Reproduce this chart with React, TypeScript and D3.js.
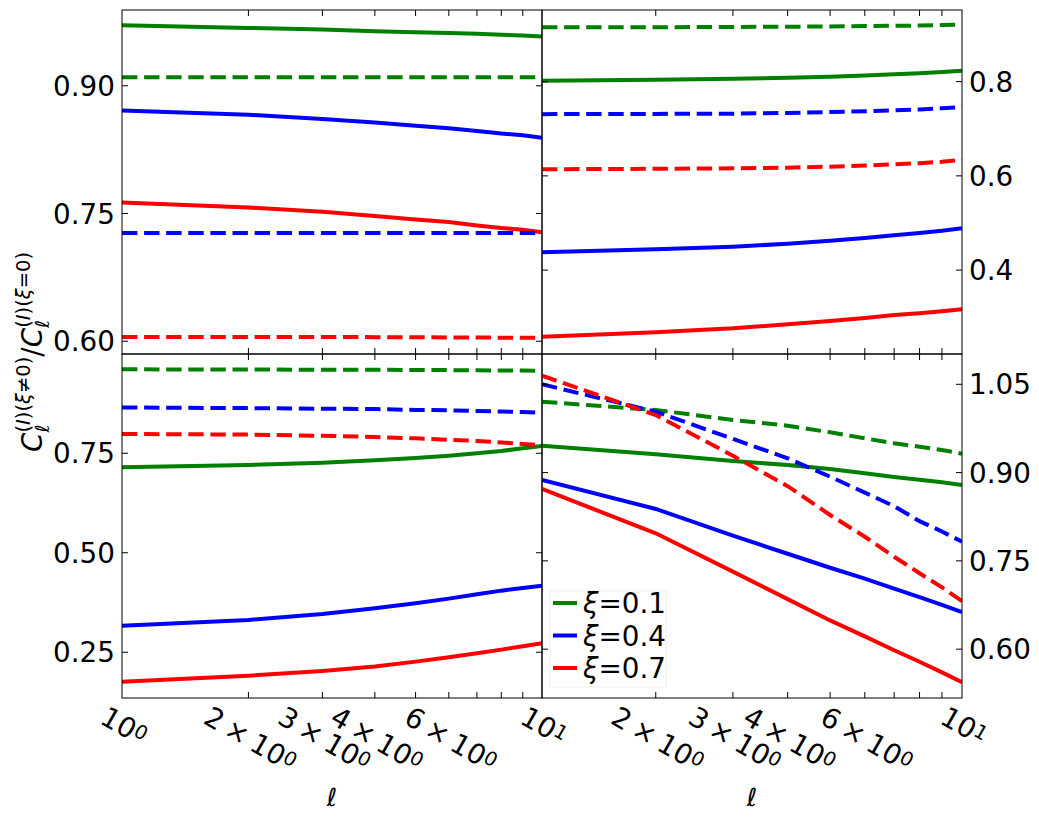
import * as d3 from "d3";
import { useEffect, useRef } from "react";

// multipole values: left column spans 1..10, right column starts a bit later
const ell = [1, 2, 3, 4, 5, 6, 7, 8, 9, 10];
const ellRight = [1.1, 2, 3, 4, 5, 6, 7, 8, 9, 10];

// top-left panel
const tlGreenSolid = [0.971, 0.968, 0.966, 0.964, 0.963, 0.962, 0.961, 0.96, 0.959, 0.958];
const tlGreenDash = [0.91, 0.91, 0.91, 0.91, 0.91, 0.91, 0.91, 0.91, 0.91, 0.91];
const tlBlueSolid = [0.871, 0.866, 0.861, 0.857, 0.853, 0.85, 0.847, 0.844, 0.842, 0.839];
const tlBlueDash = [0.727, 0.727, 0.727, 0.727, 0.727, 0.727, 0.727, 0.727, 0.727, 0.727];
const tlRedSolid = [0.763, 0.757, 0.752, 0.747, 0.743, 0.74, 0.736, 0.733, 0.731, 0.728];
const tlRedDash = [0.605, 0.605, 0.605, 0.6048, 0.6046, 0.6045, 0.6043, 0.6042, 0.604, 0.604];

// top-right panel
const trGreenSolid = [0.802, 0.804, 0.806, 0.808, 0.8105, 0.813, 0.8155, 0.818, 0.8205, 0.823];
const trGreenDash = [0.9155, 0.9155, 0.916, 0.9165, 0.917, 0.918, 0.9185, 0.919, 0.92, 0.921];
const trBlueSolid = [0.4378, 0.4442, 0.4497, 0.456, 0.4624, 0.4682, 0.474, 0.479, 0.4836, 0.4887];
const trBlueDash = [0.731, 0.7315, 0.732, 0.7335, 0.7355, 0.737, 0.739, 0.741, 0.7435, 0.746];
const trRedSolid = [0.2586, 0.268, 0.2764, 0.285, 0.292, 0.2983, 0.3047, 0.3083, 0.3125, 0.3168];
const trRedDash = [0.614, 0.615, 0.616, 0.6175, 0.6195, 0.622, 0.6245, 0.627, 0.63, 0.634];

// bottom-left panel
const blGreenSolid = [0.7148, 0.7206, 0.7264, 0.7324, 0.7382, 0.744, 0.75, 0.7558, 0.7626, 0.7683];
const blGreenDash = [0.961, 0.9605, 0.96, 0.9598, 0.9595, 0.959, 0.9585, 0.958, 0.9578, 0.9575];
const blBlueSolid = [0.3168, 0.3312, 0.3462, 0.3605, 0.3731, 0.3847, 0.3957, 0.4048, 0.4116, 0.4174];
const blBlueDash = [0.865, 0.8635, 0.862, 0.861, 0.859, 0.858, 0.856, 0.855, 0.8535, 0.852];
const blRedSolid = [0.1761, 0.1912, 0.203, 0.2139, 0.2264, 0.2374, 0.2475, 0.2566, 0.265, 0.2726];
const blRedDash = [0.7985, 0.797, 0.794, 0.791, 0.7875, 0.784, 0.781, 0.777, 0.7735, 0.77];

// bottom-right panel
const brGreenSolid = [0.9457, 0.931, 0.9197, 0.9129, 0.9061, 0.8988, 0.8925, 0.888, 0.8835, 0.8789];
const brGreenDash = [1.0205, 1.0063, 0.9895, 0.9797, 0.9685, 0.9583, 0.9498, 0.944, 0.9384, 0.9321];
const brBlueSolid = [0.8874, 0.8382, 0.7928, 0.7621, 0.7383, 0.7198, 0.703, 0.6885, 0.6754, 0.663];
const brBlueDash = [1.05, 1.0035, 0.9573, 0.9243, 0.893, 0.866, 0.843, 0.8175, 0.8, 0.7826];
const brRedSolid = [0.8722, 0.7969, 0.7317, 0.685, 0.6488, 0.6216, 0.5981, 0.5786, 0.5605, 0.5438];
const brRedDash = [1.0646, 0.9978, 0.9287, 0.877, 0.828, 0.791, 0.757, 0.729, 0.705, 0.6815];

// y ticks per panel
const tlTicks = [0.6, 0.75, 0.9];
const trTicks = [0.4, 0.6, 0.8];
const blTicks = [0.25, 0.5, 0.75];
const brTicks = [0.6, 0.75, 0.9, 1.05];

// x ticks
const xMinorTicks = [2, 3, 4, 5, 6, 7, 8, 9];
const xLabelValues = [1, 2, 3, 4, 6, 10];
const xLabelText = ["10^0", "2×10^0", "3×10^0", "4×10^0", "6×10^0", "10^1"];

const legendValues = ["0.1", "0.4", "0.7"];
const colors = ["#008000", "#0000ff", "#ff0000"];

const W = 1039;
const H = 822;
const colX = [122, 542, 962];
const rowY = [10, 354, 698];
const FONT = "DejaVu Sans, sans-serif";
const FS = 27.8;
const SUB = 19.5;
const ROT = 30;

type Panel = {
  col: number;
  row: number;
  xs: number[];
  xDomain: [number, number];
  yDomain: [number, number];
  yTicks: number[];
  fmt: string;
  solid: number[][];
  dashed: number[][];
};

const panels: Panel[] = [
  { col: 0, row: 0, xs: ell, xDomain: [1, 10], yDomain: [0.585, 0.989], yTicks: tlTicks, fmt: ".2f",
    solid: [tlGreenSolid, tlBlueSolid, tlRedSolid], dashed: [tlGreenDash, tlBlueDash, tlRedDash] },
  { col: 1, row: 0, xs: ellRight, xDomain: [1.1, 10], yDomain: [0.222, 0.952], yTicks: trTicks, fmt: ".1f",
    solid: [trGreenSolid, trBlueSolid, trRedSolid], dashed: [trGreenDash, trBlueDash, trRedDash] },
  { col: 0, row: 1, xs: ell, xDomain: [1, 10], yDomain: [0.135, 0.9995], yTicks: blTicks, fmt: ".2f",
    solid: [blGreenSolid, blBlueSolid, blRedSolid], dashed: [blGreenDash, blBlueDash, blRedDash] },
  { col: 1, row: 1, xs: ellRight, xDomain: [1.1, 10], yDomain: [0.517, 1.1015], yTicks: brTicks, fmt: ".2f",
    solid: [brGreenSolid, brBlueSolid, brRedSolid], dashed: [brGreenDash, brBlueDash, brRedDash] },
];

export default function App() {
  const ref = useRef<SVGSVGElement>(null);

  useEffect(() => {
    if (!ref.current) return;
    const svg = d3.select(ref.current);
    svg.selectAll("*").remove();
    const defs = svg.append("defs");

    panels.forEach((p, i) => {
      const x0 = colX[p.col], x1 = colX[p.col + 1];
      const y0 = rowY[p.row], y1 = rowY[p.row + 1];
      const x = d3.scaleLog().domain(p.xDomain).range([x0, x1]);
      const y = d3.scaleLinear().domain(p.yDomain).range([y1, y0]);

      defs.append("clipPath").attr("id", `clip${i}`)
        .append("rect").attr("x", x0).attr("y", y0).attr("width", x1 - x0).attr("height", y1 - y0);

      const g = svg.append("g");
      const plot = g.append("g").attr("clip-path", `url(#clip${i})`);
      const line = d3.line<number>().x((_, j) => x(p.xs[j])).y((d) => y(d));

      p.solid.forEach((vals, k) => {
        plot.append("path").attr("d", line(vals)).attr("fill", "none")
          .attr("stroke", colors[k]).attr("stroke-width", 4);
      });
      p.dashed.forEach((vals, k) => {
        plot.append("path").attr("d", line(vals)).attr("fill", "none")
          .attr("stroke", colors[k]).attr("stroke-width", 4)
          .attr("stroke-dasharray", "15.4,6.7");
      });

      // y ticks on both sides, pointing in
      p.yTicks.forEach((t) => {
        const ty = y(t);
        g.append("line").attr("x1", x0).attr("x2", x0 + 6).attr("y1", ty).attr("y2", ty).attr("stroke", "#000");
        g.append("line").attr("x1", x1 - 6).attr("x2", x1).attr("y1", ty).attr("y2", ty).attr("stroke", "#000");
        const left = p.col === 0;
        g.append("text")
          .attr("x", left ? x0 - 7 : x1 + 7)
          .attr("y", ty)
          .attr("dy", "0.36em")
          .attr("text-anchor", left ? "end" : "start")
          .attr("font-family", FONT)
          .attr("font-size", FS)
          .text(d3.format(p.fmt)(t));
      });

      // x ticks top and bottom
      xMinorTicks.forEach((t) => {
        const tx = x(t);
        g.append("line").attr("x1", tx).attr("x2", tx).attr("y1", y1).attr("y2", y1 - 6).attr("stroke", "#000");
        g.append("line").attr("x1", tx).attr("x2", tx).attr("y1", y0).attr("y2", y0 + 6).attr("stroke", "#000");
      });

      g.append("rect").attr("x", x0).attr("y", y0).attr("width", x1 - x0).attr("height", y1 - y0)
        .attr("fill", "none").attr("stroke", "#000").attr("stroke-width", 1);

      // rotated x tick labels for the bottom row
      if (p.row === 1) {
        xLabelValues.forEach((v, k) => {
          if (v < p.xDomain[0] || v > p.xDomain[1]) return;
          const [base, exp] = xLabelText[k].split("^");
          const t = g.append("text").attr("font-family", FONT).attr("font-size", FS).attr("text-anchor", "middle");
          if (base.includes("×")) {
            const [m, b] = base.split("×");
            t.append("tspan").text(m);
            t.append("tspan").attr("dx", 6).text("×");
            t.append("tspan").attr("dx", 6).text(b);
          } else {
            t.append("tspan").text(base);
          }
          t.append("tspan").attr("font-size", SUB).attr("dy", -6).text(exp);
          const node = t.node() as SVGTextElement;
          const bb = node.getBBox();
          const ang = (ROT * Math.PI) / 180;
          const rh = bb.width * Math.sin(ang) + bb.height * Math.cos(ang);
          const cx = x(v) + 2;
          const cy = 700 + rh / 2;
          t.attr("y", -(bb.y + bb.height / 2))
            .attr("transform", `translate(${cx},${cy}) rotate(${ROT})`);
        });
      }
    });

    // x axis labels
    [0, 1].forEach((c) => {
      svg.append("text")
        .attr("x", (colX[c] + colX[c + 1]) / 2)
        .attr("y", 806)
        .attr("text-anchor", "middle")
        .attr("font-family", FONT)
        .attr("font-style", "italic")
        .attr("font-size", 25)
        .text("ℓ");
    });

    // y axis label
    const yl = svg.append("text")
      .attr("transform", "translate(42,352) rotate(-90)")
      .attr("text-anchor", "middle")
      .attr("font-family", FONT)
      .attr("font-size", FS);
    const part = (rel: string) => {
      yl.append("tspan").attr("font-style", "italic").text("C");
      yl.append("tspan").attr("font-style", "italic").attr("font-size", SUB).attr("dy", 7).text("ℓ");
      const sup = yl.append("tspan").attr("font-size", SUB).attr("dx", -8).attr("dy", -19);
      sup.append("tspan").text("(");
      sup.append("tspan").attr("font-style", "italic").text("I");
      sup.append("tspan").text(")(");
      sup.append("tspan").attr("font-style", "italic").text("ξ");
      sup.append("tspan").text(`${rel}0)`);
    };
    part("≠");
    yl.append("tspan").attr("dy", 12).text("/");
    part("=");

    // legend in bottom-right panel
    const lg = svg.append("g");
    lg.append("rect").attr("x", 550).attr("y", 591).attr("width", 116).attr("height", 96)
      .attr("fill", "#fff").attr("stroke", "#eeeeee");
    legendValues.forEach((val, k) => {
      const ly = 603 + k * 32.5;
      lg.append("line").attr("x1", 553).attr("x2", 577).attr("y1", ly).attr("y2", ly)
        .attr("stroke", colors[k]).attr("stroke-width", 4);
      const t = lg.append("text").attr("x", 583).attr("y", ly).attr("dy", "0.36em")
        .attr("font-family", FONT).attr("font-size", FS);
      t.append("tspan").attr("font-style", "italic").text("ξ");
      t.append("tspan").text(`=${val}`);
    });
  }, []);

  return (
    <svg
      ref={ref}
      width={W}
      height={H}
      style={{ position: "absolute", left: 0, top: 0, background: "#fff", display: "block" }}
    />
  );
}
